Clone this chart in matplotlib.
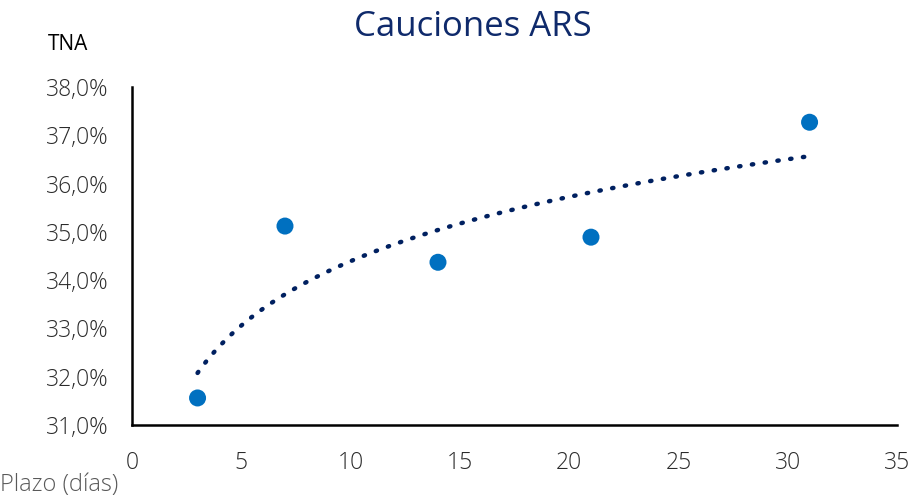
import matplotlib
matplotlib.use("Agg")
import matplotlib.pyplot as plt
import numpy as np
from matplotlib.ticker import FuncFormatter

# Datos: plazo en días y TNA (%)
plazos = [3, 7, 14, 21, 31]
tna = [31.56, 35.12, 34.37, 34.89, 37.27]

x_ticks = [0, 5, 10, 15, 20, 25, 30, 35]
y_ticks = [31, 32, 33, 34, 35, 36, 37, 38]

plt.rcParams['font.family'] = ['Open Sans', 'DejaVu Sans']

fig = plt.figure(figsize=(9.14, 5), dpi=100)
ax = fig.add_axes([0.1444, 0.15, 0.8370, 0.676])

# Línea de tendencia logarítmica (ajuste y = a + b ln x)
b, a = np.polyfit(np.log(plazos), tna, 1)
xt = np.linspace(min(plazos), max(plazos), 300)
ax.plot(xt, a + b * np.log(xt), color='#002060', linewidth=3.2,
        linestyle=(0, (0.3, 2.6)), dash_capstyle='round', zorder=2)

ax.scatter(plazos, tna, s=150, color='#0070C0', edgecolors='none', zorder=3)

ax.set_xlim(0, 35)
ax.set_ylim(31, 38)
ax.set_xticks(x_ticks)
ax.set_yticks(y_ticks)
ax.yaxis.set_major_formatter(FuncFormatter(lambda v, p: f"{v:.1f}%".replace('.', ',')))
ax.tick_params(length=0, labelsize=16.5, colors='#2b2b2b')
ax.tick_params(axis='y', pad=17)
ax.tick_params(axis='x', pad=19)
for lbl in ax.get_xticklabels() + ax.get_yticklabels():
    lbl.set_fontweight('light')

for s in ['top', 'right']:
    ax.spines[s].set_visible(False)
for s in ['left', 'bottom']:
    ax.spines[s].set_color('black')
    ax.spines[s].set_linewidth(1.8)

fig.text(0.517, 0.945, 'Cauciones ARS', ha='center', va='center',
         fontsize=25, color='#0F2A6B')
fig.text(0.075, 0.91, 'TNA', ha='center', va='center', fontsize=15, color='black')
fig.text(0.0, 0.006, 'Plazo (días)', ha='left', va='bottom', fontsize=17,
         color='#595959', fontweight='light')

fig.savefig('out.png', dpi=100)
